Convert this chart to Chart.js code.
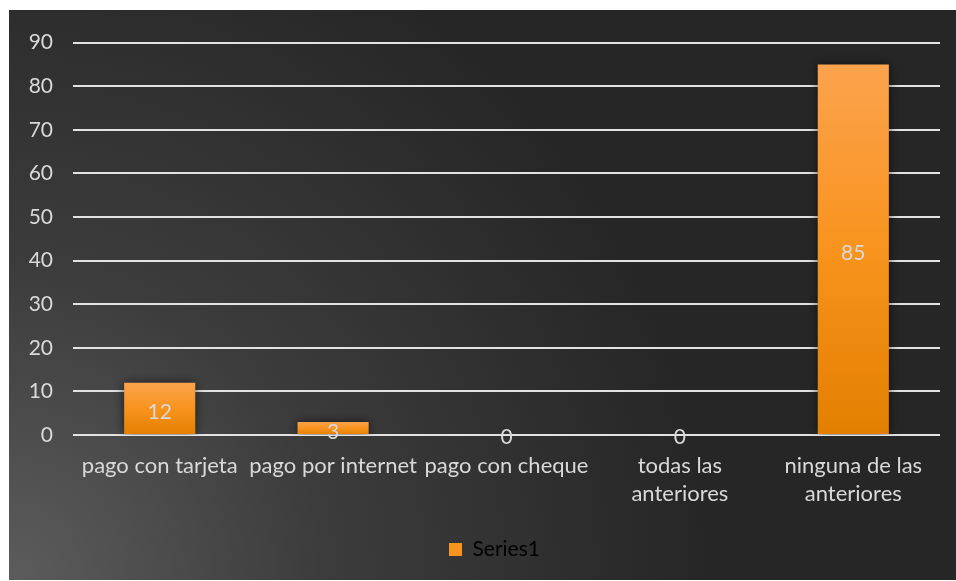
<!DOCTYPE html>
<html>
<head>
<meta charset="utf-8">
<script src="https://cdn.jsdelivr.net/npm/chart.js@4"></script>
<style>
  html, body { margin: 0; padding: 0; background: #fff; }
  #wrap { position: absolute; left: 9px; top: 10px; width: 947px; height: 570px; }
</style>
</head>
<body>
<div id="wrap"><canvas id="payChart"></canvas></div>
<script>
// Categories (multi-line where the axis wraps them) and values
const categories = [
    'pago con tarjeta',
    'pago por internet',
    'pago con cheque',
    ['todas las', 'anteriores'],
    ['ninguna de las', 'anteriores']
];
const series1 = [12, 3, 0, 0, 85];
const yTicks = { min: 0, max: 90, step: 10 };

const textColor = '#d9d9d9';
const fontFamily = 'Lato, "Open Sans", sans-serif';

// Dark backdrop that lightens toward the lower-left corner
const backdrop = {
    id: 'backdrop',
    beforeDraw(chart) {
        const { ctx, width, height } = chart;
        const g = ctx.createRadialGradient(0, height, 0, 0, height, 700);
        g.addColorStop(0, '#5c5c5c');
        g.addColorStop(0.45, '#3c3c3c');
        g.addColorStop(1, '#262626');
        ctx.save();
        ctx.fillStyle = g;
        ctx.fillRect(0, 0, width, height);
        ctx.restore();
    }
};

// Nudge the legend a little right of the plot's centre
const legendShift = {
    id: 'legendShift',
    afterLayout(chart) {
        chart.legend.left += 20;
        chart.legend.right += 20;
    }
};

// Soft shadow under the bars, plus the value in the middle of each bar
const barExtras = {
    id: 'barExtras',
    beforeDatasetsDraw(chart) {
        const ctx = chart.ctx;
        ctx.save();
        ctx.shadowColor = 'rgba(0,0,0,0.6)';
        ctx.shadowBlur = 10;
    },
    afterDatasetsDraw(chart) {
        const ctx = chart.ctx;
        ctx.restore();
        ctx.save();
        ctx.font = '21px ' + fontFamily;
        ctx.fillStyle = textColor;
        ctx.textAlign = 'center';
        ctx.textBaseline = 'middle';
        const meta = chart.getDatasetMeta(0);
        meta.data.forEach((bar, i) => {
            const v = series1[i];
            const y = v === 0 ? bar.base + 2 : (bar.y + bar.base) / 2 + 4;
            ctx.fillText(String(v), bar.x, y);
        });
        ctx.restore();
    }
};

function barFill(context) {
    const chart = context.chart;
    const v = context.raw;
    if (!chart.chartArea || !v) return '#F7931E';
    const y = chart.scales.y;
    const top = y.getPixelForValue(v);
    const bottom = y.getPixelForValue(0);
    const g = chart.ctx.createLinearGradient(0, top, 0, bottom);
    g.addColorStop(0, '#FBA34D');
    g.addColorStop(0.5, '#F8931D');
    g.addColorStop(1, '#E37F00');
    return g;
}

new Chart(document.getElementById('payChart'), {
    type: 'bar',
    data: {
        labels: categories,
        datasets: [{
            label: 'Series1',
            data: series1,
            backgroundColor: barFill,
            borderWidth: 0,
            barPercentage: 0.41,
            categoryPercentage: 1
        }]
    },
    options: {
        responsive: true,
        maintainAspectRatio: false,
        animation: false,
        layout: { padding: { top: 31, right: 16, left: 0, bottom: 10 } },
        plugins: {
            tooltip: { enabled: false },
            legend: {
                position: 'bottom',
                labels: {
                    color: textColor,
                    font: { family: fontFamily, size: 21 },
                    boxWidth: 13,
                    boxHeight: 13,
                    padding: 10,
                    generateLabels: () => [{
                        text: 'Series1',
                        fillStyle: '#F7931E',
                        strokeStyle: '#F7931E',
                        lineWidth: 0,
                        datasetIndex: 0
                    }]
                }
            }
        },
        scales: {
            x: {
                grid: { display: false },
                border: { display: false },
                ticks: {
                    color: textColor,
                    font: { family: fontFamily, size: 22, lineHeight: 1.27 },
                    maxRotation: 0,
                    autoSkip: false,
                    padding: 9
                },
                afterFit: s => { s.height = 94; }
            },
            y: {
                min: yTicks.min,
                max: yTicks.max,
                grid: { color: '#e2e2e2', lineWidth: 2, drawTicks: false },
                border: { display: false },
                ticks: {
                    stepSize: yTicks.step,
                    color: textColor,
                    font: { family: fontFamily, size: 21 },
                    padding: 20
                },
                afterFit: s => { s.width = 64; }
            }
        }
    },
    plugins: [backdrop, legendShift, barExtras]
});
</script>
</body>
</html>
